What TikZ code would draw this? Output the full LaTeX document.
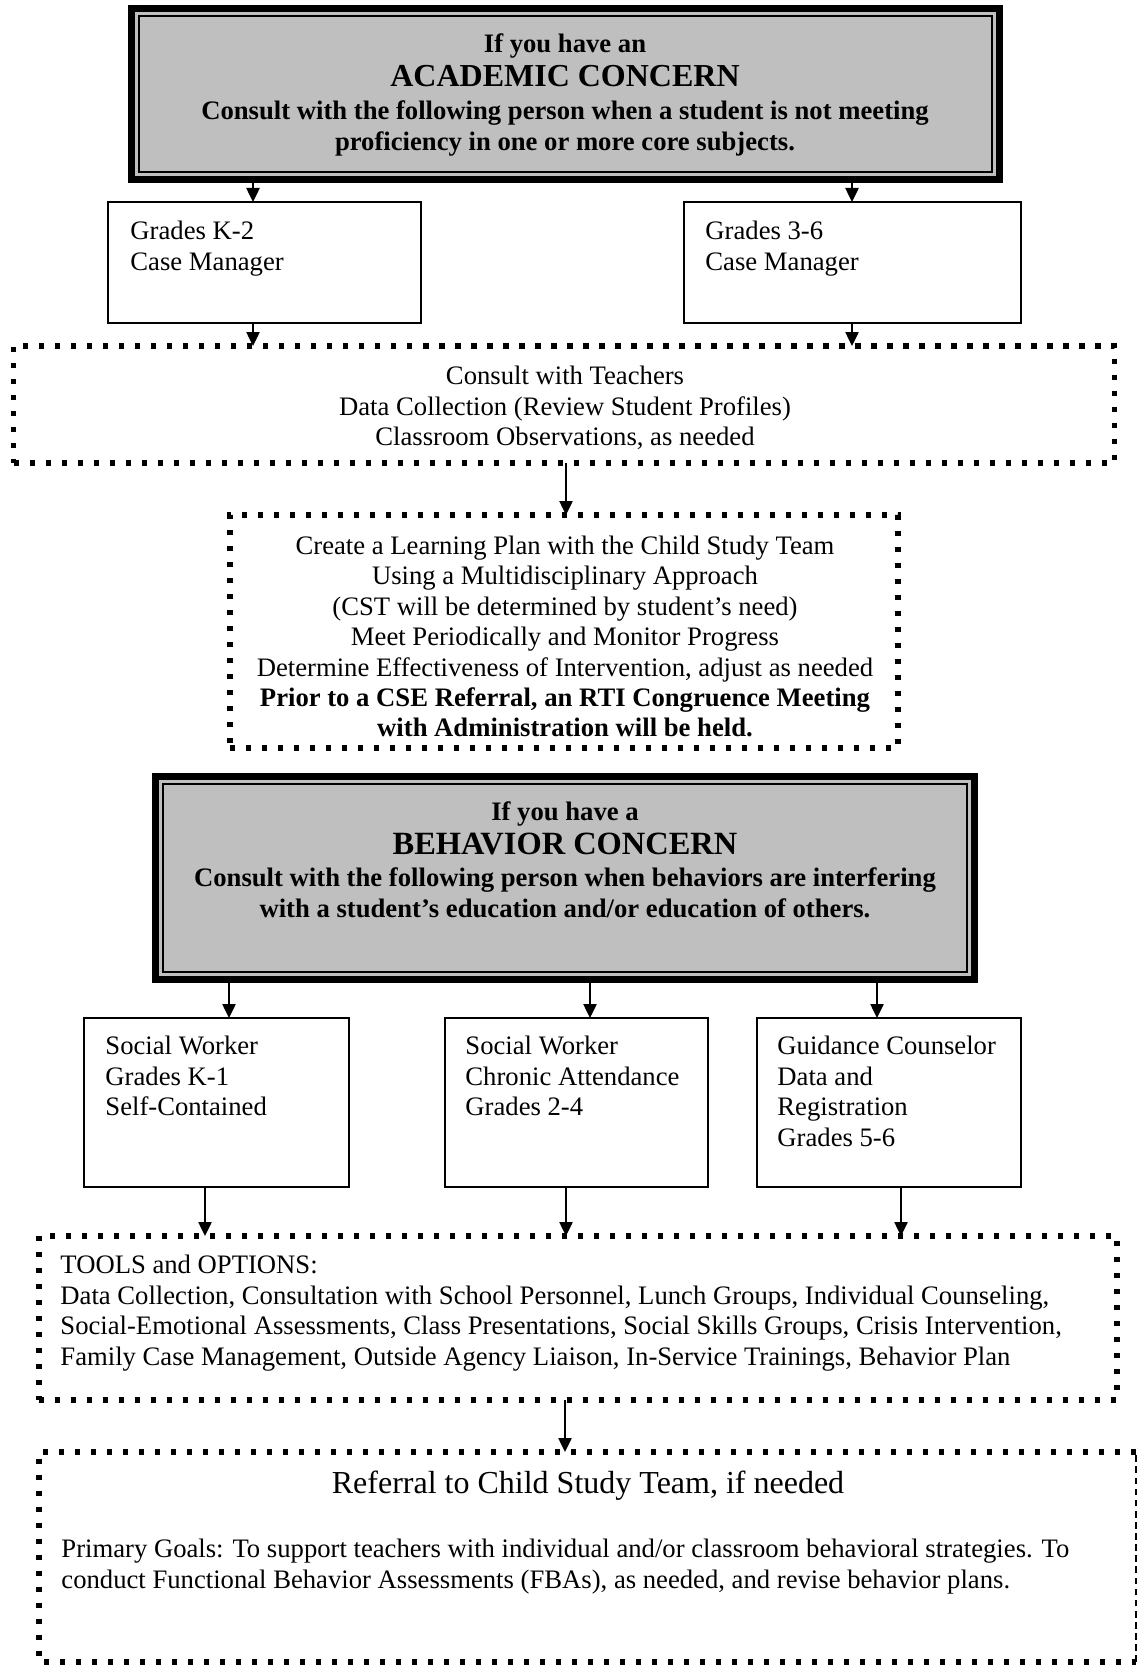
\documentclass[tikz,border=0pt]{standalone}
\usepackage{fontspec}
\setmainfont{Liberation Serif}
\usetikzlibrary{arrows.meta}

\colorlet{concern fill color}{black!25}
\tikzset{
    x={0.45pt},
    y={-0.45pt},
    box size/.style 2 args={
        minimum width={#1*0.45pt},
        minimum height={#2*0.45pt},
    },
    concern box/.style 2 args={
        draw=black, fill=concern fill color,
        line width={3.4pt},
        inner sep=0pt, outer sep=0pt,
        box size={#1}{#2},
    },
    concern inner/.style={
        draw=black,
        line width={0.8pt},
    },
    staff box/.style 2 args={
        draw=black,
        line width={0.7pt},
        inner sep=0pt, outer sep=0pt,
        box size={#1}{#2},
    },
    dotted box/.style 2 args={
        draw=black,
        line width={2.4pt},
        dash pattern=on 2.4pt off 4.8pt,
        inner sep=0pt, outer sep=0pt,
        box size={#1}{#2},
    },
    dotted edge/.style={
        draw=black,
        line width={2.4pt},
        dash pattern=on 2.4pt off 4.8pt,
    },
    thin edge/.style={
        draw=black,
        line width={0.6pt},
        dash pattern=on 3pt off 2pt,
    },
    box text/.style={
        font={\fontsize{12}{13.7}\selectfont},
        inner sep=0pt,
        align=left,
        anchor=north west,
    },
    centre text/.style={
        font={\fontsize{12}{13.7}\selectfont},
        inner sep=0pt,
        align=center,
    },
    concern text/.style={
        centre text,
        font={\bfseries\fontsize{12}{13.9}\selectfont},
    },
    link/.style={
        draw=black,
        line width={0.6pt},
        -{Triangle[length=6.3pt,width=6pt]},
    },
}

\begin{document}
\begin{tikzpicture}
\useasboundingbox (0,0) rectangle (1139,1667);
% academic concern
\node[concern box={868}{171}] (acad) at (565.5,94) {};
\path[concern inner] ([shift={(7.5,7.5)}]acad.north west) rectangle ([shift={(-7.5,-7.5)}]acad.south east);
\node[concern text] (acad text) at (565,95) {If you have an\\[1.4pt]{\fontsize{14.4}{15}\selectfont ACADEMIC CONCERN}\\[0.6pt]Consult with the following person when a student is not meeting\\proficiency in one or more core subjects.};
\node[staff box={313}{121}] (k2) at (264.5,262.5) {};
\node[box text] (k2 text) at (130,221) {Grades K-2\\Case Manager};
\node[staff box={337}{121}] (g36) at (852.5,262.5) {};
\node[box text] (g36 text) at (705,221) {Grades 3-6\\Case Manager};
\node[dotted box={1101}{117}] (consult) at (564,404.5) {};
\node[centre text] (consult text) at (565,408) {Consult with Teachers\\Data Collection (Review Student Profiles)\\Classroom Observations, as needed};
\node[dotted box={668}{233}] (plan) at (564,631.5) {};
\node[centre text] (plan text) at (565,636.5) {Create a Learning Plan with the Child Study Team\\Using a Multidisciplinary Approach\\(CST will be determined by student’s need)\\Meet Periodically and Monitor Progress\\Determine Effectiveness of Intervention, adjust as needed\\\textbf{Prior to a CSE Referral, an RTI Congruence Meeting}\\\textbf{with Administration will be held.}};
% behavior concern
\node[concern box={819}{203}] (behav) at (565,878) {};
\path[concern inner] ([shift={(7.5,7.5)}]behav.north west) rectangle ([shift={(-7.5,-7.5)}]behav.south east);
\node[concern text] (behav text) at (565,859.5) {If you have a\\[1.4pt]{\fontsize{14.6}{15}\selectfont BEHAVIOR CONCERN}\\[0.6pt]Consult with the following person when behaviors are interfering\\with a student’s education and/or education of others.};
\node[staff box={265}{169}] (sw1) at (216.5,1102.5) {};
\node[box text] (sw1 text) at (105,1036) {Social Worker\\Grades K-1\\Self-Contained};
\node[staff box={263}{169}] (sw2) at (576.5,1102.5) {};
\node[box text] (sw2 text) at (465,1036) {Social Worker\\Chronic Attendance\\Grades 2-4};
\node[staff box={264}{169}] (gc) at (889,1102.5) {};
\node[box text] (gc text) at (777,1036) {Guidance Counselor\\Data and\\Registration\\Grades 5-6};
\node[dotted box={1078}{164}] (tools) at (578,1318) {};
\node[box text] (tools text) at (60,1255) {TOOLS and OPTIONS:\\Data Collection, Consultation with School Personnel, Lunch Groups, Individual Counseling,\\Social-Emotional Assessments, Class Presentations, Social Skills Groups, Crisis Intervention,\\Family Case Management, Outside Agency Liaison, In-Service Trainings, Behavior Plan};
\node[box size={1097}{210}, inner sep=0pt, outer sep=0pt] (refer) at (587.5,1557) {};
\path[dotted edge] (refer.north east) -- (refer.north west) -- (refer.south west) -- (refer.south east);
\path[thin edge] (refer.south east) -- (refer.north east);
\node[centre text, font={\fontsize{14.4}{16}\selectfont}] (refer title) at (588,1486) {Referral to Child Study Team, if needed};
\node[box text] (refer text) at (61,1539) {Primary Goals: To support teachers with individual and/or classroom behavioral strategies. To\\conduct Functional Behavior Assessments (FBAs), as needed, and revise behavior plans.};
% links
\coordinate (k2 drop) at (253,0);
\coordinate (g36 drop) at (852,0);
\coordinate (plan drop) at (566,0);
\coordinate (sw1 drop) at (229,0);
\coordinate (sw2 drop) at (590,0);
\coordinate (gc drop) at (877,0);
\coordinate (sw1 out) at (205,0);
\coordinate (sw2 out) at (566,0);
\coordinate (gc out) at (901,0);
\coordinate (refer drop) at (565,0);
\path[link] (acad.south -| k2 drop) -- (k2.north -| k2 drop);
\path[link] (acad.south -| g36 drop) -- (g36.north -| g36 drop);
\path[link] (k2.south -| k2 drop) -- (consult.north -| k2 drop);
\path[link] (g36.south -| g36 drop) -- (consult.north -| g36 drop);
\path[link] (consult.south -| plan drop) -- (plan.north -| plan drop);
\path[link] (behav.south -| sw1 drop) -- (sw1.north -| sw1 drop);
\path[link] (behav.south -| sw2 drop) -- (sw2.north -| sw2 drop);
\path[link] (behav.south -| gc drop) -- (gc.north -| gc drop);
\path[link] (sw1.south -| sw1 out) -- (tools.north -| sw1 out);
\path[link] (sw2.south -| sw2 out) -- (tools.north -| sw2 out);
\path[link] (gc.south -| gc out) -- (tools.north -| gc out);
\path[link] (tools.south -| refer drop) -- (refer.north -| refer drop);
\end{tikzpicture}
\end{document}
